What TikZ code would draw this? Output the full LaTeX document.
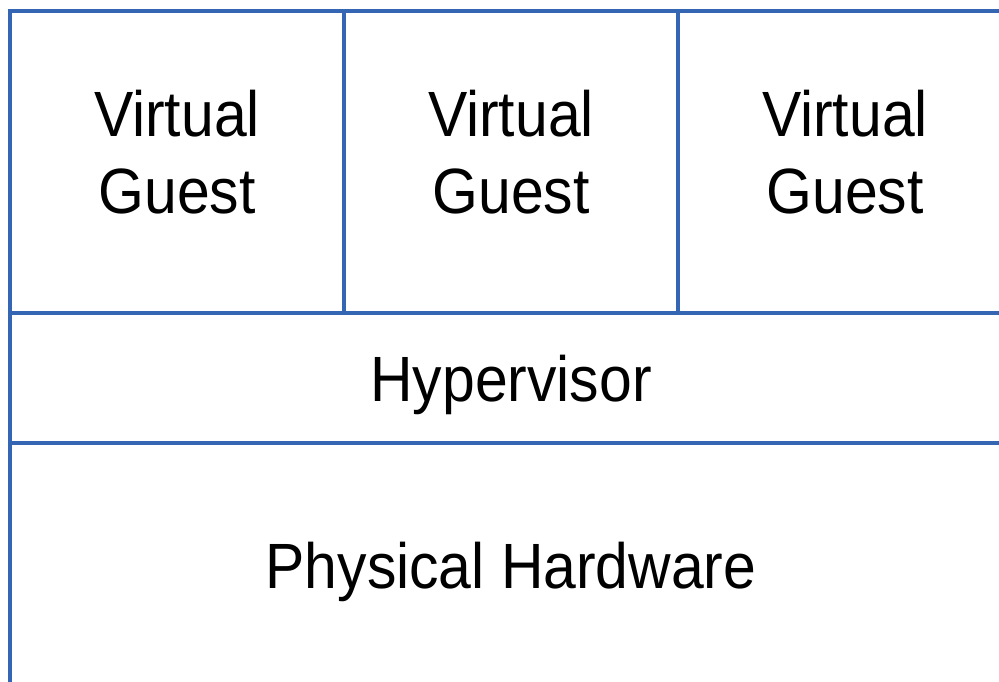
\documentclass[tikz,border=0pt]{standalone}
\usepackage{fontspec}
\setmainfont{Liberation Sans}[FakeStretch=0.92]
\usetikzlibrary{positioning}
\definecolor{layerblue}{RGB}{52,102,180}

\begin{document}
\begin{tikzpicture}[x=1pt,y=-1pt,
                    layer/.style={draw=layerblue, line width=3.2pt, inner sep=0pt, outer sep=0pt, align=center, font=\fontsize{64}{77}\selectfont},
                    guest/.style={layer, minimum width=334pt, minimum height=302pt, text depth=20pt},
                    hyper/.style={layer, minimum width=1002pt, minimum height=130pt, text depth=0pt},
                    hwbox/.style={layer, minimum width=1002pt, minimum height=244pt, text depth=0pt},
                   ]

\useasboundingbox (0,0) rectangle (999,682);
\clip (0,0) rectangle (999,682);

% guests on top
\node[guest, anchor=north west] (guest1) at (10,11) {Virtual\\Guest};
\node[guest, right=-0pt of guest1] (guest2) {Virtual\\Guest};
\node[guest, right=-0pt of guest2] (guest3) {Virtual\\Guest};

% layers below
\node[hyper, below=0pt of guest2] (hyp) {Hypervisor};
\node[hwbox, below=0pt of hyp] (hw) {Physical Hardware};

\end{tikzpicture}
\end{document}
